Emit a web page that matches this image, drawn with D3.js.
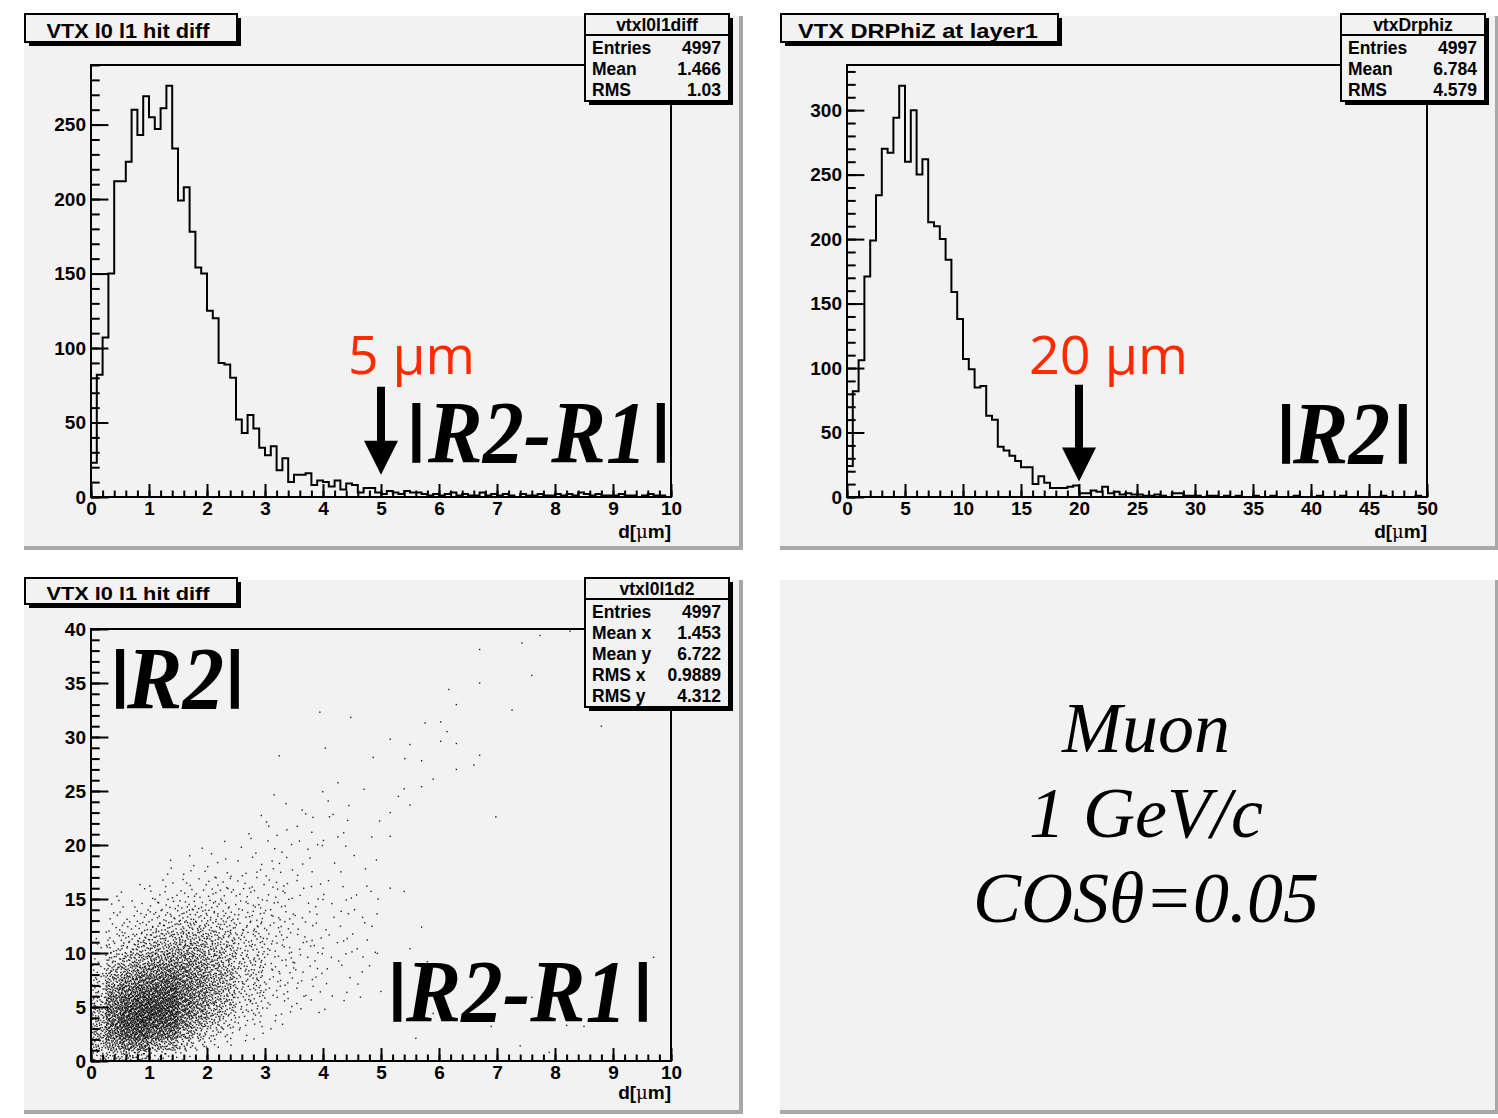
<!DOCTYPE html>
<html>
<head>
<meta charset="utf-8">
<script src="https://cdn.jsdelivr.net/npm/d3@7"></script>
<style>
  body { margin: 0; background: #fff; }
</style>
</head>
<body>
<svg id="canvas" width="1498" height="1118"></svg>
<script>
// ---------------- data ----------------
// vtxl0l1diff : |R2-R1|, 100 bins over 0..10
var hist1Range = [0, 10];
var hist1Counts = [
  23, 82,107,150,212,212,225,260,243,269, 255,247,261,276,234,199,208,178,154,150,
  125,120, 90, 89, 80, 52, 43, 55, 46, 33,  28, 34, 18, 26, 10, 15, 15, 16,  8, 11,
  10,  7, 11,  5,  9,  8,  3,  6,  6,  3,   2,  4,  3,  2,  4,  3,  3,  2,  1,  2,
   1,  2,  3,  1,  2,  1,  1,  3,  1,  2,   1,  2,  1,  0,  2,  1,  1,  2,  1,  1,
   2,  1,  2,  1,  3,  2,  1,  2,  1,  1,   1,  2,  1,  1,  0,  1,  2,  1,  1,  0
];
// vtxDrphiz : |R2|, 100 bins over 0..50
var hist2Range = [0, 50];
var hist2Counts = [
  24, 82,106,171,199,234,270,267,294,319, 260,300,250,262,213,210,200,184,159,138,
  107, 99, 85, 86, 63, 60, 39, 36, 32, 28,  23, 23, 10, 16, 11,  7,  7,  7,  8,  9,
   3,  3,  5,  4,  8,  3,  4,  2,  3,  2,   2,  1,  1,  2,  1,  0,  3,  3,  1,  1,
   1,  0,  1,  1,  0,  1,  0,  1,  0,  0,   1,  0,  0,  1,  0,  0,  0,  1,  0,  0,
   0,  1,  0,  0,  0,  1,  0,  0,  0,  0,   0,  0,  1,  0,  0,  0,  0,  0,  1,  0
];
// vtxl0l1d2 : |R2| vs |R2-R1|; one column of cell contents per x cell, y cells of 1
var scatXEdges = [0, 0.25, 0.5, 0.75, 1, 1.25, 1.5, 1.75, 2, 2.25, 2.5, 3, 3.5, 4, 4.5, 5];
var scatCellY = 1;
var scatCells = [
  [12, 22, 26, 25, 22, 17, 13,  9,  6,  3,  2,  1],
  [18, 40, 54, 60, 58, 51, 42, 31, 22, 15,  9,  6,  4,  3,  2,  1],
  [26, 52, 73, 80, 78, 69, 57, 44, 32, 22, 14,  9,  5,  3,  2,  1],
  [22, 53, 77, 85, 87, 79, 68, 54, 40, 28, 19, 13,  8,  5,  2,  1,  1],
  [10, 34, 61, 78, 86, 81, 71, 59, 47, 35, 25, 17, 11,  7,  5,  3,  2],
  [ 8, 31, 57, 74, 84, 81, 74, 63, 51, 39, 27, 19, 12,  8,  5,  3,  2,  2,  1],
  [ 4, 16, 31, 45, 55, 58, 56, 52, 46, 38, 30, 22, 16, 10,  7,  4,  3,  2,  1],
  [ 2,  9, 19, 30, 40, 42, 44, 43, 39, 34, 28, 22, 16, 10,  6,  4,  2,  1,  1,  1],
  [ 1,  4, 10, 19, 26, 30, 32, 31, 29, 26, 22, 18, 13, 10,  7,  5,  3,  2,  1,  1],
  [ 0,  2,  5, 11, 16, 20, 23, 24, 23, 21, 18, 15, 12,  8,  5,  4,  3,  2,  1,  0,  1],
  [ 0,  1,  4,  8, 13, 17, 20, 22, 23, 22, 20, 18, 15, 12,  9,  7,  6,  4,  3,  2,  1,  1,  1],
  [ 0,  0,  1,  2,  4,  6,  7,  8,  9,  9,  9,  9,  8,  8,  7,  6,  5,  4,  3,  2,  3,  2,  1,  1,  1,  0,  0,  0,  1],
  [ 0,  0,  0,  0,  2,  3,  4,  4,  5,  5,  5,  5,  4,  4,  3,  3,  3,  2,  2,  2,  2,  2,  2,  1,  1,  0,  0,  0,  0,  0,  0,  0,  1],
  [ 0,  0,  0,  0,  1,  1,  2,  2,  2,  3,  3,  3,  2,  3,  2,  2,  2,  1,  1,  1,  2,  1,  3,  1,  1,  1,  0,  0,  1,  0,  0,  1],
  [ 0,  0,  0,  0,  0,  1,  1,  1,  2,  2,  2,  2,  2,  2,  2,  2,  1,  1,  1,  1,  1,  0,  1,  0,  0,  1,  0,  0,  1]
];
// single entries beyond x = 5
var scatSparse = [
  [5.16,29.8],[5.5,29.3],[6.03,29.6],[6.3,29.4],[6.7,28.3],[5.41,28],[5.7,27.8],[6.6,27.4],
  [6.3,27],[5.9,26.1],[5.7,25.4],[5.4,25.2],[5.3,24.5],[5.5,23.7],[5.16,23],[6.98,22.6],
  [5.16,20.8],[8.26,39.8],[7.74,39.4],[7.43,38.7],[6.7,38.1],[7.6,35.7],[6.7,35],[6.17,34.4],
  [6.3,33],[7.26,32.5],[8.8,31],[5.76,31.3],[6.03,31.4],[6.14,30.5],[5.16,16],[5.4,15.7],
  [5.7,12.4],[5.5,10.4],[5.8,9.2],[9.7,9.6],[7.6,5.9],[5.9,4.4],[6.9,3.2],[8.2,3.3],
  [8.5,3.2],[5.6,2.1],[7.4,1.4],[7.9,0.8]
];

var xTicks1 = [0,1,2,3,4,5,6,7,8,9,10];
var yTicks1 = [0,50,100,150,200,250];
var xTicks2 = [0,5,10,15,20,25,30,35,40,45,50];
var yTicks2 = [0,50,100,150,200,250,300];
var yTicks3 = [0,5,10,15,20,25,30,35,40];

var stats1Labels = ["Entries","Mean","RMS"];
var stats1Values = ["4997","1.466","1.03"];
var stats2Labels = ["Entries","Mean","RMS"];
var stats2Values = ["4997","6.784","4.579"];
var stats3Labels = ["Entries","Mean x","Mean y","RMS x","RMS y"];
var stats3Values = ["4997","1.453","6.722","0.9889","4.312"];

var noteLines = ["Muon", "1 GeV/c", "COS\u03b8=0.05"];

// ---------------- drawing ----------------
var svg = d3.select("#canvas");
var SANS = "'Liberation Sans', Arial, sans-serif";
var SERIF = "'Liberation Serif', 'Times New Roman', serif";
var RED = "#ff2a00";

function drawPad(px, py){
  svg.append("rect").attr("x", px).attr("y", py).attr("width", 715).attr("height", 530)
    .attr("fill", "#f2f2f2");
  svg.append("rect").attr("x", px + 715).attr("y", py).attr("width", 4).attr("height", 534)
    .attr("fill", "#a8a8a8");
  svg.append("rect").attr("x", px).attr("y", py + 530).attr("width", 719).attr("height", 4)
    .attr("fill", "#a8a8a8");
}

function drawAxes(x, y, xMajor, xMinorStep, yMajor, yMinorStep){
  var xl = x.range()[0], xr = x.range()[1];
  var yb = y.range()[0], yt = y.range()[1];
  var w = xr - xl, h = yb - yt;
  var xMinor = d3.range(x.domain()[0], x.domain()[1] + 1e-9, xMinorStep);
  var yMinor = d3.range(y.domain()[0], y.domain()[1] + 1e-9, yMinorStep);
  var g = svg.append("g");

  g.append("g").attr("transform", "translate(0," + yb + ")")
    .call(d3.axisBottom(x).tickValues(xMinor).tickSize(-h * 0.015).tickFormat(""));
  g.append("g").attr("transform", "translate(0," + yb + ")")
    .call(d3.axisBottom(x).tickValues(xMajor).tickSizeInner(-h * 0.03).tickSizeOuter(0).tickPadding(5));
  g.append("g").attr("transform", "translate(" + xl + ",0)")
    .call(d3.axisLeft(y).tickValues(yMinor).tickSize(-w * 0.015).tickFormat(""));
  g.append("g").attr("transform", "translate(" + xl + ",0)")
    .call(d3.axisLeft(y).tickValues(yMajor).tickSizeInner(-w * 0.03).tickSizeOuter(0).tickPadding(5));

  g.selectAll(".domain").remove();
  g.selectAll(".tick line").attr("stroke", "#000").attr("stroke-width", 2);
  g.selectAll(".tick text").attr("fill", "#000").attr("font-family", SANS)
    .attr("font-size", 19).attr("font-weight", "bold");

  svg.append("rect").attr("x", xl).attr("y", yt).attr("width", w).attr("height", h)
    .attr("fill", "none").attr("stroke", "#000").attr("stroke-width", 2);
}

function axisTitle(xr, base){
  var t = svg.append("text").attr("x", xr).attr("y", base).attr("text-anchor", "end")
    .attr("font-family", SANS).attr("font-size", 19).attr("font-weight", "bold").attr("fill", "#000");
  t.append("tspan").text("d[");
  t.append("tspan").attr("font-family", "'DejaVu Serif', serif").attr("font-weight", "normal")
    .attr("font-size", 18).text("\u03bc");
  t.append("tspan").text("m]");
}

function drawHist(x, y, counts, range){
  var bw = (range[1] - range[0]) / counts.length;
  var pts = [[range[0], 0]];
  counts.forEach(function(c, i){ pts.push([range[0] + i * bw, c]); });
  pts.push([range[1], counts[counts.length - 1]]);
  pts.push([range[1], 0]);
  var line = d3.line().x(function(d){ return x(d[0]); }).y(function(d){ return y(d[1]); })
    .curve(d3.curveStepAfter);
  svg.append("path").attr("d", line(pts)).attr("fill", "none")
    .attr("stroke", "#000").attr("stroke-width", 2);
}

function halton(i, b){
  var f = 1, r = 0;
  while(i > 0){ f /= b; r += f * (i % b); i = Math.floor(i / b); }
  return r;
}

// spread each cell's entries over the cell (like ROOT's SCAT option), deterministic
function cellEntries(cells, xEdges, dy){
  var pts = [];
  cells.forEach(function(col, i){
    var xa = xEdges[i], dx = xEdges[i + 1] - xEdges[i];
    col.forEach(function(n, j){
      var start = (i * 41 + j) * 173 + 11;
      for(var k = 0; k < n; k++){
        pts.push([xa + halton(start + k, 2) * dx, (j + halton(start + k, 3)) * dy]);
      }
    });
  });
  return pts;
}

function titleBox(x0, y0, w, h, text, fs, tx, base, tlen){
  svg.append("rect").attr("x", x0 + 4).attr("y", y0 + 4).attr("width", w).attr("height", h).attr("fill", "#000");
  svg.append("rect").attr("x", x0).attr("y", y0).attr("width", w).attr("height", h)
    .attr("fill", "#f2f2f2").attr("stroke", "#000").attr("stroke-width", 2);
  svg.append("text").attr("x", tx).attr("y", base).attr("font-family", SANS)
    .attr("font-size", fs).attr("font-weight", "bold").attr("fill", "#000")
    .attr("textLength", tlen).attr("lengthAdjust", "spacingAndGlyphs").text(text);
}

function statsBox(x0, y0, w, h, name, labels, values){
  svg.append("rect").attr("x", x0 + 4).attr("y", y0 + 4).attr("width", w).attr("height", h).attr("fill", "#000");
  svg.append("rect").attr("x", x0).attr("y", y0).attr("width", w).attr("height", h)
    .attr("fill", "#f2f2f2").attr("stroke", "#000").attr("stroke-width", 2);
  svg.append("line").attr("x1", x0).attr("x2", x0 + w).attr("y1", y0 + 21).attr("y2", y0 + 21)
    .attr("stroke", "#000").attr("stroke-width", 2);
  var g = svg.append("g").attr("font-family", SANS).attr("font-size", 17.5)
    .attr("font-weight", "bold").attr("fill", "#000");
  g.append("text").attr("x", x0 + w / 2).attr("y", y0 + 17).attr("text-anchor", "middle").text(name);
  labels.forEach(function(l, i){
    g.append("text").attr("x", x0 + 7).attr("y", y0 + 40 + i * 20.9).text(l);
    g.append("text").attr("x", x0 + w - 8).attr("y", y0 + 40 + i * 20.9)
      .attr("text-anchor", "end").text(values[i]);
  });
}

// |...| label: sans bars around a bold italic serif text
function rLabel(bars, text, tx, tlen, base){
  bars.forEach(function(bx){
    svg.append("text").attr("x", bx).attr("y", base - 13).attr("font-family", SANS)
      .attr("font-weight", "bold").attr("font-size", 63).attr("fill", "#000").text("|");
  });
  svg.append("text").attr("x", tx).attr("y", base).attr("font-family", SERIF)
    .attr("font-weight", "bold").attr("font-style", "italic").attr("font-size", 88)
    .attr("fill", "#000").attr("textLength", tlen).attr("lengthAdjust", "spacingAndGlyphs").text(text);
}

function arrow(x, y, a){
  var cx = x(a.at), top = y(a.from), tip = y(a.to);
  var path = d3.path();
  path.moveTo(cx - 4, top); path.lineTo(cx + 4, top); path.lineTo(cx + 4, tip - 34);
  path.lineTo(cx + 17, tip - 34); path.lineTo(cx, tip); path.lineTo(cx - 17, tip - 34);
  path.lineTo(cx - 4, tip - 34); path.closePath();
  svg.append("path").attr("d", path.toString()).attr("fill", "#000");
}

function redLabel(x, base, len, text){
  svg.append("text").attr("x", x).attr("y", base).attr("font-family", "'Open Sans', sans-serif")
    .attr("font-size", 53).attr("fill", RED)
    .attr("textLength", len).attr("lengthAdjust", "spacingAndGlyphs").text(text);
}

// pads
drawPad(24, 16); drawPad(780, 16); drawPad(24, 580); drawPad(780, 580);

// ---- pad 1 ----
var x1 = d3.scaleLinear().domain(hist1Range).range([91, 671]);
var y1 = d3.scaleLinear().domain([0, 290]).range([497, 65]);
drawHist(x1, y1, hist1Counts, hist1Range);
drawAxes(x1, y1, xTicks1, 0.2, yTicks1, 10);
axisTitle(671, 538);
redLabel(348, 374, 127, "5 \u03bcm");
arrow(x1, y1, {at: 5, from: 74, to: 15});
rLabel([407.5, 652], "R2-R1", 428, 219, 462);
statsBox(585, 14, 144, 87, "vtxl0l1diff", stats1Labels, stats1Values);
titleBox(25, 14, 212, 28, "VTX l0 l1 hit diff", 20, 46.5, 37.5, 163);

// ---- pad 2 ----
var x2 = d3.scaleLinear().domain(hist2Range).range([847, 1427]);
var y2 = d3.scaleLinear().domain([0, 335]).range([497, 65]);
drawHist(x2, y2, hist2Counts, hist2Range);
drawAxes(x2, y2, xTicks2, 1, yTicks2, 10);
axisTitle(1427, 538);
redLabel(1029, 374, 159, "20 \u03bcm");
arrow(x2, y2, {at: 20, from: 87, to: 12});
rLabel([1277.3, 1394], "R2", 1293, 97, 463);
statsBox(1341, 14, 144, 87, "vtxDrphiz", stats2Labels, stats2Values);
titleBox(781, 14, 277, 28, "VTX DRPhiZ at layer1", 20, 798, 37.5, 240);

// ---- pad 3 ----
var x3 = d3.scaleLinear().domain([0, 10]).range([91, 671]);
var y3 = d3.scaleLinear().domain([0, 40]).range([1061, 629]);
var entries = cellEntries(scatCells, scatXEdges, scatCellY).concat(scatSparse);
svg.append("g").selectAll("rect").data(entries).join("rect")
  .attr("x", function(d){ return x3(d[0]) - 0.7; })
  .attr("y", function(d){ return y3(d[1]) - 0.7; })
  .attr("width", 1.4).attr("height", 1.4).attr("fill", "#000").attr("fill-opacity", 0.85);
drawAxes(x3, y3, xTicks1, 0.2, yTicks3, 1);
axisTitle(671, 1099);
rLabel([111.3, 226], "R2", 127, 97, 708);
rLabel([388.6, 634], "R2-R1", 406, 221, 1021);
statsBox(585, 578, 144, 129, "vtxl0l1d2", stats3Labels, stats3Values);
titleBox(25, 578, 212, 26, "VTX l0 l1 hit diff", 18, 46.5, 600, 163);

// ---- pad 4 ----
noteLines.forEach(function(s, i){
  svg.append("text").attr("x", 1146).attr("y", 752 + i * 85).attr("text-anchor", "middle")
    .attr("font-family", SERIF).attr("font-style", "italic").attr("font-size", 72)
    .attr("fill", "#000").text(s);
});
</script>
</body>
</html>
